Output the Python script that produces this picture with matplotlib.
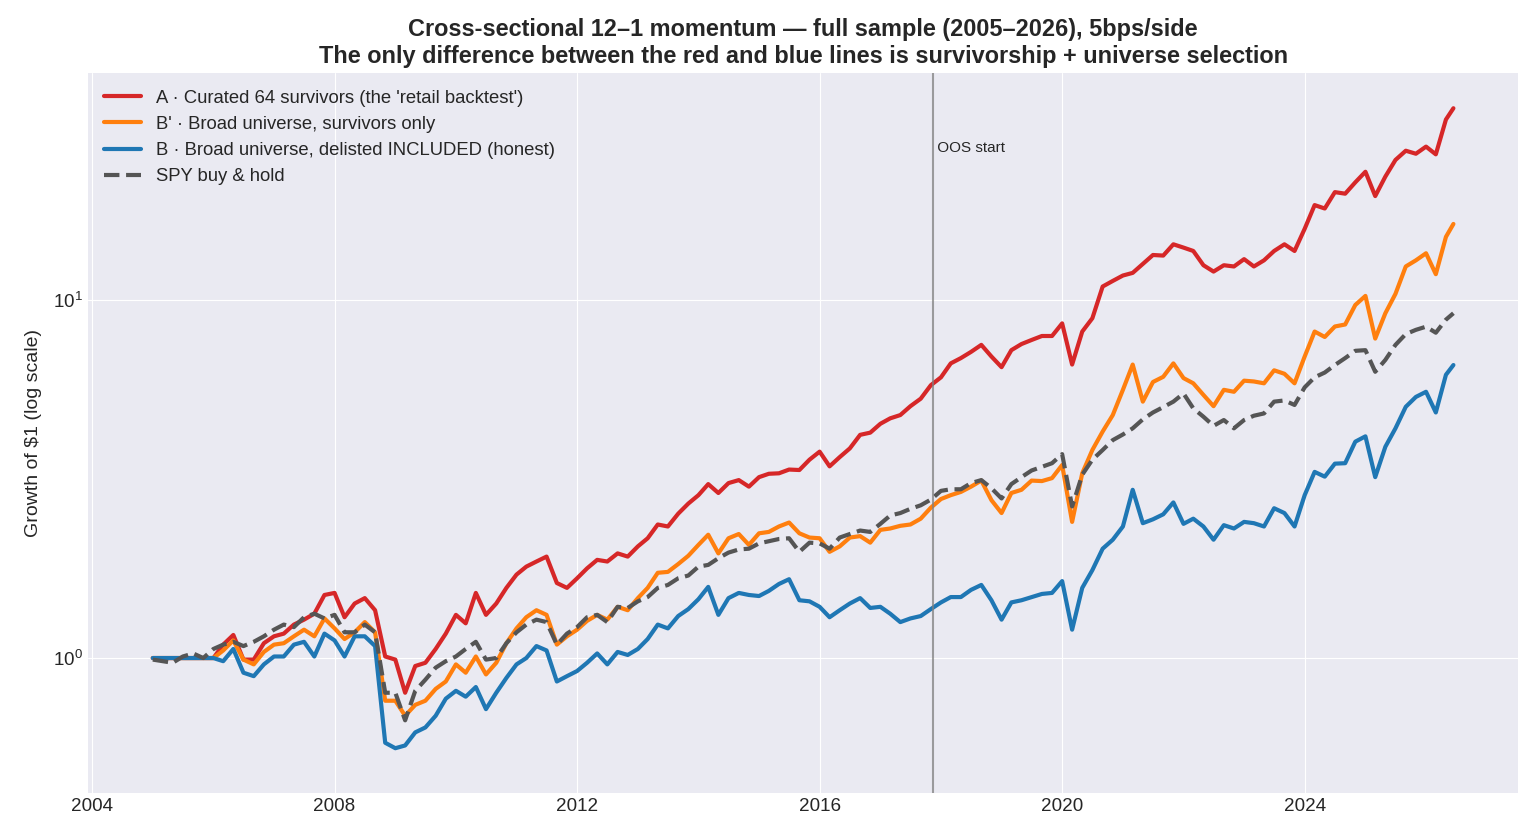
import matplotlib
matplotlib.use("Agg")
import matplotlib.pyplot as plt
import matplotlib.dates as mdates
import matplotlib.transforms as mtransforms
import pandas as pd

# bimonthly sample dates, last point = end of the sample
dates = list(pd.date_range("2005-01-01", "2026-05-01", freq="2MS")) + [pd.Timestamp("2026-06-15")]

# A - curated 64 survivors
curated = [
    1.0, 1.0, 1.0, 1.0, 1.0, 1.0, 1.0, 1.09, 1.16, 0.99,
    0.99, 1.10, 1.15, 1.17, 1.24, 1.28, 1.33, 1.50, 1.52, 1.30,
    1.42, 1.47, 1.36, 1.01, 0.99, 0.80, 0.95, 0.97, 1.06, 1.17,
    1.32, 1.25, 1.52, 1.32, 1.42, 1.57, 1.71, 1.80, 1.86, 1.92,
    1.62, 1.57, 1.67, 1.78, 1.88, 1.86, 1.96, 1.92, 2.05, 2.16,
    2.36, 2.33, 2.53, 2.70, 2.85, 3.06, 2.89, 3.08, 3.14, 3.01,
    3.20, 3.27, 3.28, 3.36, 3.35, 3.58, 3.77, 3.43, 3.64, 3.85,
    4.20, 4.26, 4.51, 4.67, 4.77, 5.05, 5.30, 5.78, 6.08, 6.65,
    6.88, 7.16, 7.49, 6.95, 6.49, 7.24, 7.53, 7.73, 7.93, 7.93,
    8.60, 6.60, 8.16, 8.89, 10.9, 11.3, 11.7, 11.9, 12.6, 13.35,
    13.3, 14.3, 14.0, 13.7, 12.5, 12.0, 12.5, 12.4, 13.0, 12.4,
    12.9, 13.7, 14.3, 13.7, 15.8, 18.4, 18.0, 20.0, 19.8, 21.3,
    22.8, 19.5, 22.1, 24.6, 26.1, 25.6, 26.8, 25.5, 31.9, 34.3,
]

# B' - broad universe, survivors only
broad_surv = [
    1.0, 1.0, 1.0, 1.0, 1.0, 1.0, 1.0, 1.05, 1.12, 0.99,
    0.96, 1.04, 1.09, 1.10, 1.15, 1.20, 1.15, 1.29, 1.21, 1.13,
    1.18, 1.26, 1.18, 0.76, 0.76, 0.69, 0.74, 0.76, 0.82, 0.86,
    0.96, 0.91, 1.01, 0.90, 0.97, 1.10, 1.21, 1.30, 1.36, 1.32,
    1.09, 1.15, 1.20, 1.27, 1.32, 1.28, 1.39, 1.36, 1.47, 1.57,
    1.73, 1.74, 1.83, 1.93, 2.07, 2.21, 1.96, 2.16, 2.22, 2.07,
    2.23, 2.25, 2.33, 2.39, 2.23, 2.17, 2.16, 1.98, 2.05, 2.17,
    2.19, 2.10, 2.28, 2.30, 2.34, 2.36, 2.45, 2.63, 2.78, 2.85,
    2.91, 3.01, 3.13, 2.76, 2.54, 2.89, 2.95, 3.13, 3.12, 3.18,
    3.46, 2.40, 3.28, 3.81, 4.29, 4.77, 5.61, 6.60, 5.20, 5.90,
    6.10, 6.65, 6.05, 5.85, 5.43, 5.05, 5.61, 5.54, 5.95, 5.92,
    5.85, 6.36, 6.22, 5.85, 6.95, 8.16, 7.88, 8.43, 8.54, 9.68,
    10.26, 7.80, 9.18, 10.4, 12.4, 12.9, 13.5, 11.8, 15.0, 16.3,
]

# B - broad universe, delisted included
broad_all = [
    1.0, 1.0, 1.0, 1.0, 1.0, 1.0, 1.0, 0.98, 1.06, 0.91,
    0.89, 0.96, 1.01, 1.01, 1.09, 1.11, 1.01, 1.17, 1.12, 1.01,
    1.15, 1.15, 1.08, 0.58, 0.56, 0.57, 0.62, 0.64, 0.69, 0.77,
    0.81, 0.78, 0.83, 0.72, 0.80, 0.88, 0.96, 1.00, 1.08, 1.05,
    0.86, 0.89, 0.92, 0.97, 1.03, 0.96, 1.04, 1.02, 1.06, 1.13,
    1.24, 1.21, 1.31, 1.37, 1.46, 1.58, 1.32, 1.47, 1.52, 1.50,
    1.49, 1.54, 1.61, 1.66, 1.45, 1.44, 1.39, 1.30, 1.36, 1.42,
    1.47, 1.38, 1.39, 1.33, 1.26, 1.29, 1.31, 1.37, 1.43, 1.48,
    1.48, 1.55, 1.60, 1.45, 1.28, 1.43, 1.45, 1.48, 1.51, 1.52,
    1.64, 1.20, 1.57, 1.76, 2.02, 2.14, 2.33, 2.95, 2.38, 2.44,
    2.52, 2.72, 2.37, 2.45, 2.33, 2.14, 2.35, 2.30, 2.40, 2.38,
    2.33, 2.62, 2.54, 2.33, 2.85, 3.31, 3.21, 3.49, 3.50, 4.02,
    4.16, 3.20, 3.89, 4.38, 5.03, 5.36, 5.54, 4.85, 6.18, 6.58,
]

# SPY buy & hold
spy = [
    0.99, 0.98, 0.97, 1.01, 1.03, 1.00, 1.06, 1.09, 1.11, 1.08,
    1.11, 1.15, 1.20, 1.24, 1.22, 1.30, 1.33, 1.29, 1.32, 1.18,
    1.18, 1.24, 1.18, 0.80, 0.80, 0.67, 0.81, 0.87, 0.94, 0.98,
    1.01, 1.06, 1.11, 0.99, 1.00, 1.10, 1.18, 1.24, 1.28, 1.26,
    1.09, 1.17, 1.22, 1.30, 1.32, 1.26, 1.39, 1.38, 1.44, 1.48,
    1.57, 1.60, 1.67, 1.70, 1.80, 1.82, 1.90, 1.97, 2.01, 2.02,
    2.09, 2.12, 2.15, 2.16, 1.98, 2.10, 2.09, 2.02, 2.17, 2.22,
    2.27, 2.25, 2.37, 2.50, 2.54, 2.61, 2.67, 2.77, 2.93, 2.96,
    2.96, 3.08, 3.14, 2.98, 2.79, 3.06, 3.20, 3.34, 3.42, 3.50,
    3.71, 2.65, 3.25, 3.58, 3.81, 4.06, 4.21, 4.38, 4.64, 4.85,
    5.02, 5.20, 5.48, 4.98, 4.72, 4.45, 4.62, 4.38, 4.62, 4.75,
    4.82, 5.20, 5.24, 5.09, 5.70, 6.08, 6.27, 6.58, 6.88, 7.21,
    7.24, 6.30, 6.80, 7.49, 8.03, 8.25, 8.42, 8.10, 8.81, 9.18,
]

labels = [
    "A · Curated 64 survivors (the 'retail backtest')",
    "B' · Broad universe, survivors only",
    "B · Broad universe, delisted INCLUDED (honest)",
    "SPY buy & hold",
]
oos_start = pd.Timestamp("2017-11-15")

plt.style.use("seaborn-v0_8-darkgrid")
plt.rcParams["font.family"] = ["Liberation Sans", "DejaVu Sans"]

fig, ax = plt.subplots(figsize=(15.4, 8.4), dpi=100)
fig.subplots_adjust(left=0.057, right=0.986, top=0.913, bottom=0.056)

ax.plot(dates, curated, color="#d62728", lw=3, label=labels[0])
ax.plot(dates, broad_surv, color="#ff7f0e", lw=3, label=labels[1])
ax.plot(dates, broad_all, color="#1f77b4", lw=3, label=labels[2])
ax.plot(dates, spy, color="#555555", lw=3, ls="--", label=labels[3])

ax.set_yscale("log")
ax.set_ylim(0.42, 43)

ax.axvline(oos_start, color="gray", lw=1.5, alpha=0.75)
trans = mtransforms.blended_transform_factory(ax.transData, ax.transAxes)
ax.text(oos_start, 0.896, " OOS start", transform=trans, fontsize=11,
        va="center", ha="left", color="#262626")

ax.xaxis.set_major_locator(mdates.YearLocator(4))
ax.xaxis.set_major_formatter(mdates.DateFormatter("%Y"))
ax.tick_params(labelsize=13.6)

ax.set_ylabel("Growth of $1 (log scale)", fontsize=14, labelpad=8)
ax.set_title("Cross-sectional 12–1 momentum — full sample (2005–2026), 5bps/side\n"
             "The only difference between the red and blue lines is survivorship + universe selection",
             fontsize=16.9, fontweight="bold", pad=7.5)
ax.legend(loc="upper left", fontsize=13.3, frameon=False)

fig.savefig("out.png", dpi=100)
